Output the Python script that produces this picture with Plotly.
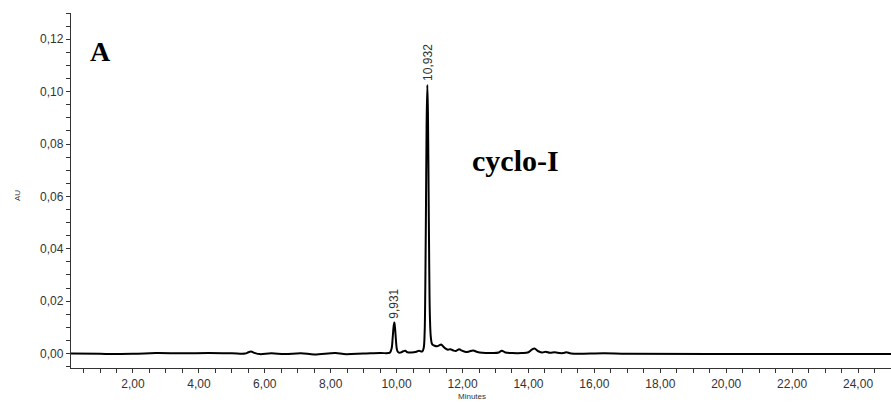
import plotly.graph_objects as go

# Chromatogram trace (minutes, AU)
time_min = [0.12, 1.0, 2.0, 2.7, 3.5, 4.3, 5.0, 5.4, 5.5, 5.58, 5.7, 5.85, 6.2, 6.6, 7.1, 7.5,
            8.15, 8.4, 9.0, 9.5, 9.75, 9.80, 9.85, 9.88, 9.91, 9.931, 9.95, 9.98, 10.01, 10.05,
            10.12, 10.2, 10.26, 10.33, 10.45, 10.6, 10.68, 10.74, 10.78, 10.82, 10.85, 10.87,
            10.89, 10.91, 10.932, 10.95, 10.97, 10.99, 11.01, 11.04, 11.08, 11.15, 11.22, 11.3,
            11.35, 11.42, 11.5, 11.56, 11.63, 11.72, 11.8, 11.9, 11.98, 12.1, 12.2, 12.32, 12.45,
            12.6, 12.9, 13.1, 13.19, 13.3, 13.5, 13.8, 14.0, 14.1, 14.18, 14.3, 14.42, 14.52,
            14.65, 14.8, 14.95, 15.05, 15.15, 15.3, 16.3, 17.0, 20.0, 25.0]
absorbance = [0.0, -0.0001, -0.0001, 0.0002, 0.0001, 0.0002, 0.0001, 0.0, 0.0005, 0.0008, 0.0002,
              -0.0002, 0.0001, -0.0002, 0.0001, -0.0003, 0.0002, -0.0002, 0.0, 0.0002, 0.0002,
              0.0004, 0.002, 0.006, 0.0105, 0.0119, 0.010, 0.005, 0.0015, 0.0005, 0.0004, 0.0009,
              0.0011, 0.0005, 0.0004, 0.0007, 0.0011, 0.0008, 0.0008, 0.002, 0.008, 0.025, 0.055,
              0.088, 0.1025, 0.092, 0.062, 0.032, 0.014, 0.006, 0.0035, 0.003, 0.0028, 0.0032,
              0.0035, 0.0026, 0.0018, 0.0015, 0.0017, 0.0012, 0.001, 0.0017, 0.0011, 0.0006,
              0.0008, 0.0012, 0.0006, 0.0003, 0.0002, 0.0004, 0.0011, 0.0004, 0.0002, 0.0002,
              0.0005, 0.0015, 0.0019, 0.0009, 0.0004, 0.0007, 0.0003, 0.0005, 0.0002, 0.0002,
              0.0005, 0.0, 0.0001, -0.0001, -0.0002, -0.0002]

peak_times = [9.931, 10.932]
peak_heights = [0.0119, 0.1025]
peak_labels = ["9,931", "10,932"]

x_tick_vals = [2, 4, 6, 8, 10, 12, 14, 16, 18, 20, 22, 24]
x_tick_text = ["2,00", "4,00", "6,00", "8,00", "10,00", "12,00", "14,00", "16,00",
               "18,00", "20,00", "22,00", "24,00"]
y_tick_vals = [0.0, 0.02, 0.04, 0.06, 0.08, 0.10, 0.12]
y_tick_text = ["0,00", "0,02", "0,04", "0,06", "0,08", "0,10", "0,12"]

fig = go.Figure()
fig.add_trace(go.Scatter(x=time_min, y=absorbance, mode="lines",
                         line=dict(color="black", width=2), line_shape="spline",
                         showlegend=False, hoverinfo="skip"))

tickfont = dict(family="Arial, Liberation Sans, sans-serif", size=12, color="#333333")
fig.update_layout(
    width=891, height=403,
    margin=dict(l=71, r=0, t=13, b=35),
    paper_bgcolor="white", plot_bgcolor="white",
    xaxis=dict(range=[0.12, 25.0], tickvals=x_tick_vals, ticktext=x_tick_text,
               ticks="outside", ticklen=4, tickcolor="#333333", tickwidth=1,
               showline=True, linecolor="#333333", linewidth=1.3,
               showgrid=False, zeroline=False, tickfont=tickfont,
               minor=dict(dtick=0.5, tick0=0, ticks="outside", ticklen=4,
                          tickcolor="#333333", showgrid=False)),
    yaxis=dict(range=[-0.0055, 0.13], tickvals=y_tick_vals, ticktext=y_tick_text,
               ticks="outside", ticklen=4, tickcolor="#333333", tickwidth=1,
               showline=True, linecolor="#333333", linewidth=1.3,
               showgrid=False, zeroline=False, tickfont=tickfont,
               minor=dict(dtick=0.005, tick0=0, ticks="outside", ticklen=4,
                          tickcolor="#333333", showgrid=False)),
)

for t, h, lab in zip(peak_times, peak_heights, peak_labels):
    fig.add_annotation(x=t, y=h, text=lab, textangle=-90, showarrow=False,
                       xanchor="center", yanchor="bottom", yshift=2,
                       font=dict(family="Arial, Liberation Sans, sans-serif", size=12,
                                 color="#333333"))

fig.add_annotation(xref="paper", yref="paper", x=(472 - 71) / 820, y=-(397 - 368) / 355,
                   text="Minutes", showarrow=False, xanchor="center", yanchor="middle",
                   font=dict(family="Arial, Liberation Sans, sans-serif", size=8, color="#333333"))
fig.add_annotation(xref="paper", yref="paper", x=-(71 - 17) / 820, y=(368 - 196) / 355,
                   text="AU", textangle=-90, showarrow=False, xanchor="center", yanchor="middle",
                   font=dict(family="Arial, Liberation Sans, sans-serif", size=8, color="#333333"))
fig.add_annotation(xref="paper", yref="paper", x=(100 - 71) / 820, y=(368 - 52) / 355,
                   text="<b>A</b>", showarrow=False, xanchor="center", yanchor="middle",
                   font=dict(family="Liberation Serif, Times New Roman, serif", size=28, color="black"))
fig.add_annotation(xref="paper", yref="paper", x=(515 - 71) / 820, y=(368 - 160) / 355,
                   text="<b>cyclo-I</b>", showarrow=False, xanchor="center", yanchor="middle",
                   font=dict(family="Liberation Serif, Times New Roman, serif", size=30, color="black"))

fig.write_html("out.html", config={"displayModeBar": False},
               post_script="document.body.style.margin='0';document.body.style.overflow='hidden';")
